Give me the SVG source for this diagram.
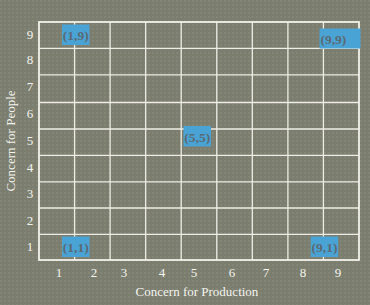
<svg xmlns="http://www.w3.org/2000/svg" width="370" height="305" viewBox="0 0 370 305">
  <defs>
    <pattern id="tex" width="4" height="4" patternUnits="userSpaceOnUse">
      <rect width="4" height="4" fill="#7b7d6e"/>
      <rect x="0" y="0" width="2" height="2" fill="#838577"/>
    </pattern>
  </defs>
  <style>
    .grid line { stroke: #eeeee6; stroke-width: 1.3; }
    .frame { fill: none; stroke: #f2f2ec; stroke-width: 1.8; }
    .num { font-family: "Liberation Serif", "Times New Roman", serif; font-size: 13px; fill: #f4f4ee; text-anchor: middle; }
    .title { font-family: "Liberation Serif", "Times New Roman", serif; font-size: 13px; fill: #f4f4ee; text-anchor: middle; }
    .box rect { fill: #4aa3d5; }
    .box text { font-family: "Liberation Serif", "Times New Roman", serif; font-size: 13.5px; fill: #5a6a74; font-weight: bold; }
  </style>
  <rect width="370" height="305" fill="url(#tex)"/>
  <g id="grid" class="grid">
    <line x1="74.6" y1="22" x2="74.6" y2="260"/>
    <line x1="110.1" y1="22" x2="110.1" y2="260"/>
    <line x1="145.7" y1="22" x2="145.7" y2="260"/>
    <line x1="181.2" y1="22" x2="181.2" y2="260"/>
    <line x1="216.8" y1="22" x2="216.8" y2="260"/>
    <line x1="252.3" y1="22" x2="252.3" y2="260"/>
    <line x1="287.9" y1="22" x2="287.9" y2="260"/>
    <line x1="323.4" y1="22" x2="323.4" y2="260"/>
    <line x1="39" y1="48.4" x2="359" y2="48.4"/>
    <line x1="39" y1="74.9" x2="359" y2="74.9"/>
    <line x1="39" y1="102.5" x2="359" y2="102.5"/>
    <line x1="39" y1="129" x2="359" y2="129"/>
    <line x1="39" y1="155.4" x2="359" y2="155.4"/>
    <line x1="39" y1="181.8" x2="359" y2="181.8"/>
    <line x1="39" y1="208" x2="359" y2="208"/>
    <line x1="39" y1="234.3" x2="359" y2="234.3"/>
    <rect class="frame" x="39" y="22" width="320" height="238"/>
  </g>
  <g id="y-axis">
    <text class="num" x="30" y="39">9</text>
    <text class="num" x="30" y="64">8</text>
    <text class="num" x="30" y="91">7</text>
    <text class="num" x="30" y="118">6</text>
    <text class="num" x="30" y="145">5</text>
    <text class="num" x="30" y="172">4</text>
    <text class="num" x="30" y="198">3</text>
    <text class="num" x="30" y="225">2</text>
    <text class="num" x="30" y="251">1</text>
    <text class="title" transform="translate(15,141) rotate(-90)">Concern for People</text>
  </g>
  <g id="x-axis">
    <text class="num" x="59" y="277">1</text>
    <text class="num" x="94" y="277">2</text>
    <text class="num" x="124" y="277">3</text>
    <text class="num" x="162" y="277">4</text>
    <text class="num" x="194" y="277">5</text>
    <text class="num" x="232" y="277">6</text>
    <text class="num" x="266" y="277">7</text>
    <text class="num" x="303" y="277">8</text>
    <text class="num" x="338" y="277">9</text>
    <text class="title" x="197" y="296">Concern for Production</text>
  </g>
  <g id="n19" class="box">
    <rect x="62" y="24.5" width="27.5" height="20.5"/>
    <text x="75.8" y="40" text-anchor="middle">(1,9)</text>
  </g>
  <g id="n99" class="box">
    <rect x="319.5" y="28.5" width="41" height="20"/>
    <text x="320.5" y="43.5">(9,9)</text>
  </g>
  <g id="n55" class="box">
    <rect x="183.5" y="126" width="27.5" height="20.5"/>
    <text x="197.3" y="141.5" text-anchor="middle">(5,5)</text>
  </g>
  <g id="n11" class="box">
    <rect x="62" y="236.5" width="27.5" height="20.5"/>
    <text x="75.8" y="252" text-anchor="middle">(1,1)</text>
  </g>
  <g id="n91" class="box">
    <rect x="310.7" y="236.5" width="27.5" height="20.5"/>
    <text x="324.5" y="252" text-anchor="middle">(9,1)</text>
  </g>
</svg>
